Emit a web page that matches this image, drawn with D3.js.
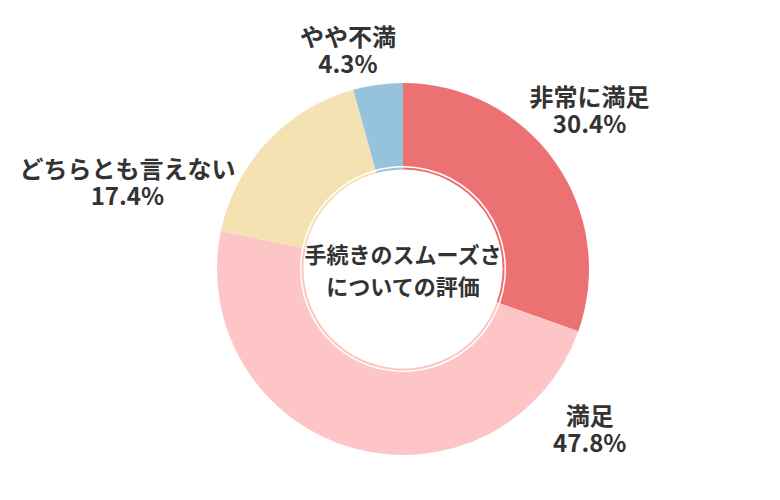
<!DOCTYPE html>
<html>
<head>
<meta charset="utf-8">
<script src="https://cdn.jsdelivr.net/npm/d3@7"></script>
<style>
  body { margin: 0; background: #fff; }
  svg text { font-family: "Noto Sans CJK JP", "Noto Sans", sans-serif; font-weight: bold; fill: #333; }
</style>
</head>
<body>
<svg id="chart" width="780" height="500"></svg>
<script>
// data
const categories = ['非常に満足', '満足', 'どちらとも言えない', 'やや不満'];
const values = [30.4, 47.8, 17.4, 4.3];
const colors = ['#eb7172', '#fec5c7', '#f5e2b3', '#95c3db'];
const centerTitle = ['手続きのスムーズさ', 'についての評価'];

// label placement (angle in degrees clockwise from top, distance from centre)
const labelAngle = [49.6, 130.6, 287.5, 345.9];
const labelDist = [245, 246, 289, 226];

const width = 780, height = 500;
const cx = 403, cy = 269;
const outerR = 186, innerR = 103;

const svg = d3.select('#chart');
const g = svg.append('g').attr('transform', `translate(${cx},${cy})`);

const pie = d3.pie().sort(null).value(d => d.value);
const slices = pie(categories.map((c, i) => ({name: c, value: values[i], color: colors[i]})));

const arcMain = d3.arc().innerRadius(innerR).outerRadius(outerR);
const arcThin = d3.arc().innerRadius(99.5).outerRadius(101.5);

g.selectAll('path.main')
  .data(slices)
  .enter().append('path')
  .attr('class', 'main')
  .attr('d', arcMain)
  .attr('fill', d => d.data.color);

g.selectAll('path.thin')
  .data(slices)
  .enter().append('path')
  .attr('class', 'thin')
  .attr('d', arcThin)
  .attr('fill', d => d.data.color);

g.selectAll('text.title')
  .data(centerTitle)
  .enter().append('text')
  .attr('class', 'title')
  .attr('text-anchor', 'middle')
  .attr('x', 0)
  .attr('y', (d, i) => -6 + i * 32)
  .attr('font-size', 22)
  .text(d => d);

const labels = g.selectAll('g.label')
  .data(slices)
  .enter().append('g')
  .attr('class', 'label')
  .attr('transform', (d, i) => {
    const a = labelAngle[i] * Math.PI / 180;
    return `translate(${Math.sin(a) * labelDist[i]},${-Math.cos(a) * labelDist[i]})`;
  });

labels.append('text')
  .attr('text-anchor', 'middle')
  .attr('y', -4)
  .attr('font-size', 24)
  .text(d => d.data.name);

labels.append('text')
  .attr('text-anchor', 'middle')
  .attr('y', 23)
  .attr('font-size', 24)
  .text(d => d.data.value.toFixed(1) + '%');
</script>
</body>
</html>
